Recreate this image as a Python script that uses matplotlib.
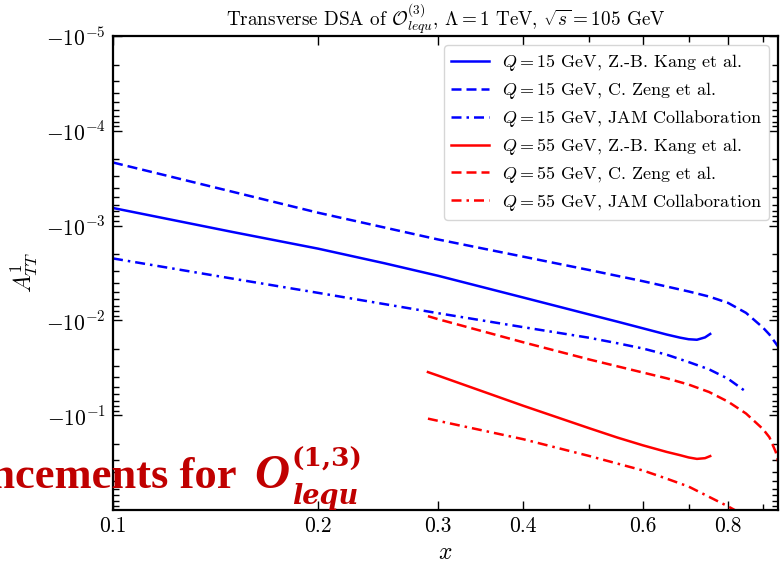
import numpy as np
import matplotlib
matplotlib.use('Agg')
from matplotlib import pyplot as plt
from matplotlib.ticker import FixedLocator, FixedFormatter, LogLocator, NullFormatter

plt.rcParams['font.family'] = 'serif'
plt.rcParams['font.serif'] = ['cmr10']
plt.rcParams['mathtext.fontset'] = 'cm'
plt.rcParams['axes.formatter.use_mathtext'] = True

# Q = 15 GeV
x_kang15 = [0.1, 0.15, 0.2, 0.25, 0.3, 0.4, 0.5, 0.55, 0.6, 0.65, 0.68, 0.70, 0.72, 0.74, 0.753]
a_kang15 = [-6.52e-4, -1.17e-3, -1.75e-3, -2.49e-3, -3.38e-3, -5.73e-3, -8.65e-3, -1.03e-2,
            -1.213e-2, -1.41e-2, -1.52e-2, -1.58e-2, -1.60e-2, -1.51e-2, -1.39e-2]
x_zeng15 = [0.1, 0.2, 0.3, 0.4, 0.5, 0.6, 0.7, 0.75, 0.8, 0.85, 0.9, 0.92, 0.947]
a_zeng15 = [-2.16e-4, -7.31e-4, -1.40e-3, -2.125e-3, -2.94e-3, -3.86e-3, -4.95e-3,
            -5.60e-3, -6.54e-3, -8.33e-3, -1.19e-2, -1.41e-2, -1.88e-2]
x_jam15 = [0.1, 0.15, 0.2, 0.3, 0.4, 0.5, 0.55, 0.6, 0.65, 0.7, 0.75, 0.8, 0.847]
a_jam15 = [-2.22e-3, -3.63e-3, -5.12e-3, -8.39e-3, -1.178e-2, -1.524e-2, -1.74e-2,
           -1.98e-2, -2.30e-2, -2.75e-2, -3.28e-2, -4.13e-2, -5.55e-2]

# Q = 55 GeV
x_kang55 = [0.29, 0.3, 0.4, 0.5, 0.55, 0.6, 0.65, 0.68, 0.70, 0.72, 0.74, 0.753]
a_kang55 = [-0.0351, -0.0382, -0.0794, -0.137, -0.172, -0.208, -0.244, -0.264,
            -0.279, -0.289, -0.284, -0.270]
x_zeng55 = [0.29, 0.3, 0.35, 0.4, 0.5, 0.6, 0.65, 0.7, 0.75, 0.8, 0.85, 0.9, 0.92, 0.94, 0.947]
a_zeng55 = [-9.02e-3, -9.70e-3, -1.31e-2, -1.70e-2, -2.58e-2, -3.55e-2, -4.08e-2, -4.75e-2,
            -5.69e-2, -7.20e-2, -9.60e-2, -0.140, -0.171, -0.245, -0.305]
x_jam55 = [0.29, 0.3, 0.4, 0.5, 0.6, 0.65, 0.7, 0.75, 0.8, 0.82, 0.83]
a_jam55 = [-0.1087, -0.1146, -0.179, -0.269, -0.383, -0.467, -0.566, -0.726,
           -0.916, -1.01, -1.1]

x_ticks = [0.1, 0.2, 0.3, 0.4, 0.6, 0.8]
x_ticklabels = ['0.1', '0.2', '0.3', '0.4', '0.6', '0.8']
x_minor = [0.5, 0.7, 0.9]
y_ticks = [1e-5, 1e-4, 1e-3, 1e-2, 1e-1]
y_ticklabels = [r'$-10^{-5}$', r'$-10^{-4}$', r'$-10^{-3}$', r'$-10^{-2}$', r'$-10^{-1}$']

dash = (0, (4, 2))
dashdot = (0, (4, 2, 1, 2))
curves = [
    (x_kang15, a_kang15, 'b', '-', r'$Q = 15$ GeV, Z.-B. Kang et al.'),
    (x_zeng15, a_zeng15, 'b', dash, r'$Q = 15$ GeV, C. Zeng et al.'),
    (x_jam15, a_jam15, 'b', dashdot, r'$Q = 15$ GeV, JAM Collaboration'),
    (x_kang55, a_kang55, 'r', '-', r'$Q = 55$ GeV, Z.-B. Kang et al.'),
    (x_zeng55, a_zeng55, 'r', dash, r'$Q = 55$ GeV, C. Zeng et al.'),
    (x_jam55, a_jam55, 'r', dashdot, r'$Q = 55$ GeV, JAM Collaboration'),
]

fig = plt.figure(figsize=(7.83, 5.64), dpi=100)
ax = fig.add_axes([113 / 783, 54 / 564, 665 / 783, 474 / 564])

for xs, ys, c, ls, lab in curves:
    # axis is log of |A|, drawn downward, labels carry the minus sign
    ax.plot(xs, -np.array(ys), color=c, linestyle=ls, lw=1.8, label=lab)

ax.set_xscale('log')
ax.set_yscale('log')
ax.set_xlim(0.1, 0.947)
ax.set_ylim(1.0, 1e-5)

ax.xaxis.set_major_locator(FixedLocator(x_ticks))
ax.xaxis.set_major_formatter(FixedFormatter(x_ticklabels))
ax.xaxis.set_minor_locator(FixedLocator(x_minor))
ax.xaxis.set_minor_formatter(NullFormatter())
ax.yaxis.set_major_locator(FixedLocator(y_ticks))
ax.yaxis.set_major_formatter(FixedFormatter(y_ticklabels))
ax.yaxis.set_minor_locator(LogLocator(base=10, subs=np.arange(2, 10), numticks=20))
ax.yaxis.set_minor_formatter(NullFormatter())

ax.tick_params(which='both', direction='in', top=True, right=True, labelsize=15.5)
ax.tick_params(which='major', length=6.5, width=1.0, pad=5)
ax.tick_params(which='minor', length=4.5, width=1.0)
for sp in ax.spines.values():
    sp.set_linewidth(1.6)

ax.set_title(r'Transverse DSA of $\mathcal{O}^{(3)}_{lequ}$, $\Lambda = 1$ TeV, '
             r'$\sqrt{s} = 105$ GeV', fontsize=13.8, pad=6)
ax.set_xlabel(r'$x$', fontsize=17, labelpad=4)
ax.set_ylabel(r'$A^{1}_{TT}$', fontsize=17, labelpad=4)

ax.legend(loc='upper right', fontsize=13, labelspacing=0.38, handlelength=2.1,
          handletextpad=0.7, borderaxespad=0.5)

# overlay from the slide, cut off at the left edge
red = '#c00000'
fig.text(237 / 783, 1 - 488 / 564, 'Enhancements for', ha='right', va='baseline',
         fontsize=32, fontweight='bold', family='Liberation Serif', color=red, zorder=10)
fig.text(254 / 783, 1 - 488 / 564, 'O', ha='left', va='baseline', fontsize=35,
         fontweight='bold', fontstyle='italic', family='Liberation Serif', color=red, zorder=10)
fig.text(292 / 783, 1 - 467 / 564, '(1,3)', ha='left', va='baseline', fontsize=19,
         fontweight='bold', family='DejaVu Serif', color=red, zorder=10)
fig.text(292 / 783, 1 - 504 / 564, 'lequ', ha='left', va='baseline', fontsize=19.5,
         fontweight='bold', fontstyle='italic', family='DejaVu Serif', color=red, zorder=10)

plt.savefig('out.png', dpi=100)
plt.close(fig)
